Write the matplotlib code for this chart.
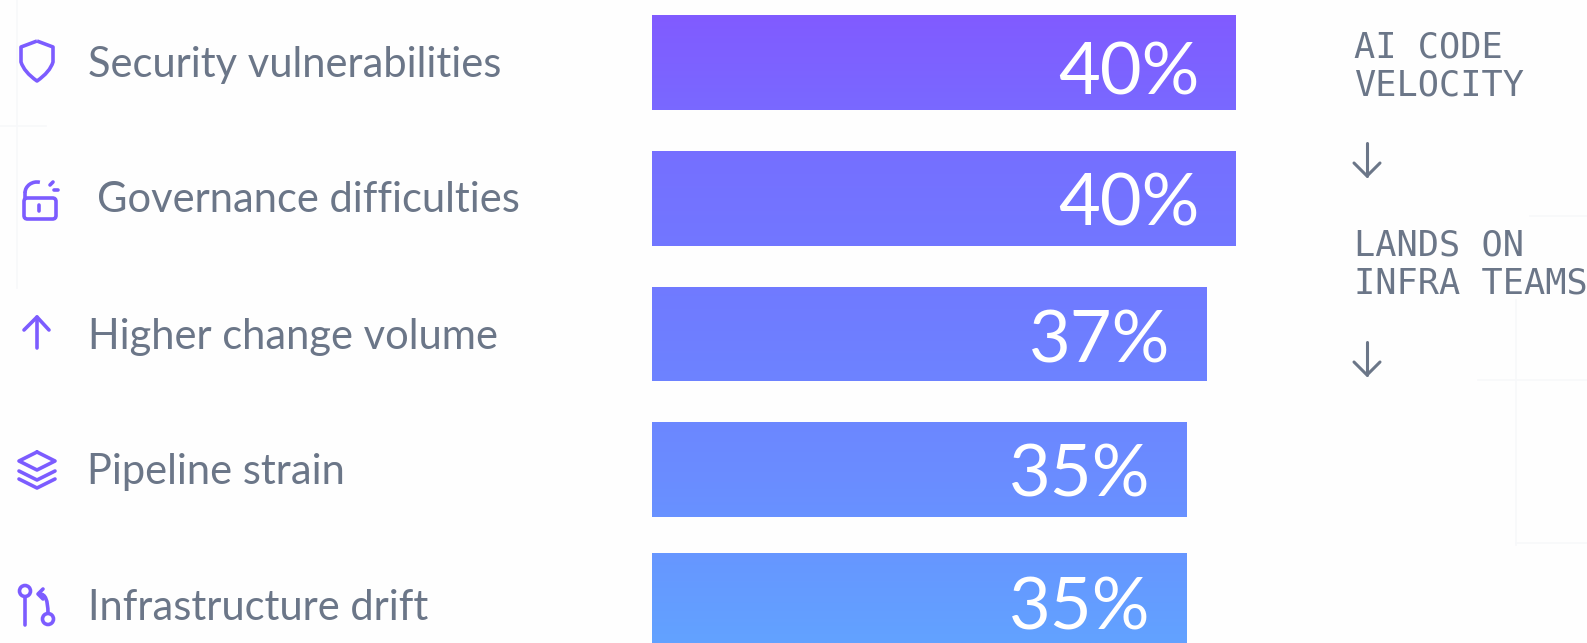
import numpy as np
import matplotlib
matplotlib.use('Agg')
import matplotlib.pyplot as plt
from matplotlib.colors import LinearSegmentedColormap
from matplotlib.patches import Arc, Circle, FancyBboxPatch, PathPatch
from matplotlib.path import Path

# Survey results
categories = ['Security vulnerabilities', 'Governance difficulties', 'Higher change volume',
              'Pipeline strain', 'Infrastructure drift']
values = [40, 40, 37, 35, 35]
flow_steps = [['AI CODE', 'VELOCITY'], ['LANDS ON', 'INFRA TEAMS']]

W, H = 1587, 643
PURPLE = '#7C5CFF'
SLATE = '#6B7688'
GRID = '#F7F8FA'

fig = plt.figure(figsize=(W / 100, H / 100), dpi=100, facecolor='#FEFEFE')

# Full-figure layer in pixel units for text, icons and the faint backdrop lines
bg = fig.add_axes([0, 0, 1, 1])
bg.set_xlim(0, W)
bg.set_ylim(H, 0)
bg.axis('off')

for x0, y0, x1, y1 in [(17, 0, 17, 288), (0, 126, 46, 126), (1516, 300, 1516, 545),
                       (1530, 216, W, 216), (1478, 380, W, 380), (1516, 543, W, 543)]:
    bg.plot([x0, x1], [y0, y1], color=GRID, lw=1.2)

# Bars sit on a truncated value axis, same vertical pixel layout as the labels
bar_left, bar_right = 652, 1235.5
px_per_pct = 9.8
axis_min = 40 - (bar_right - bar_left) / px_per_pct
bar_ax = fig.add_axes([bar_left / W, 0, (bar_right - bar_left) / W, 1])
bar_ax.axis('off')
bar_ax.patch.set_alpha(0)

bar_y = [62.5, 198.5, 334, 469.5, 600.5]
label_y = [65, 200, 337, 472, 608]
pct_y = [74, 205, 342, 476, 609]
bars = bar_ax.barh(bar_y, [v - axis_min for v in values], left=axis_min, height=95, color='none')

# Vertical purple to blue fade running through all the bars
fade = LinearSegmentedColormap.from_list('fade', ['#8259FF', '#7570FF', '#6F7DFF', '#6A8DFF', '#62A2FF'])
for bar in bars:
    img = bar_ax.imshow(np.linspace(0, 1, 256).reshape(-1, 1), cmap=fade, aspect='auto',
                        extent=[axis_min, 40, H, 0], zorder=2)
    img.set_clip_path(bar)
bar_ax.set_xlim(axis_min, 40)
bar_ax.set_ylim(H, 0)

for y, v in zip(pct_y, values):
    bar_ax.text(v - 36 / px_per_pct, y, f'{v}%', color='white', fontsize=52, family='Lato',
                ha='right', va='center', zorder=3)

label_x = [88, 97, 88, 87, 88]
for x, y, name in zip(label_x, label_y, categories):
    bg.text(x, y, name, color=SLATE, fontsize=30, family='Lato', ha='left', va='center')

# Flow column on the right
flow_y = [[48, 85], [246, 283]]
for lines, ys in zip(flow_steps, flow_y):
    for line, y in zip(lines, ys):
        bg.text(1354, y, line, color=SLATE, fontsize=25.4, family='DejaVu Sans Mono', ha='left', va='center')

for top, bottom in [(143, 176), (342, 375)]:
    bg.plot([1367, 1367], [top, bottom], color=SLATE, lw=2.2, solid_capstyle='round')
    bg.plot([1354, 1367, 1380], [bottom - 13, bottom, bottom - 13], color=SLATE, lw=2.2,
            solid_capstyle='round', solid_joinstyle='round')

# Line icons beside the category labels
icon = dict(color=PURPLE, lw=2.6, solid_capstyle='round', solid_joinstyle='round')

# shield
shield = Path([(37, 41), (53, 47), (53, 62), (50, 72), (37, 81), (24, 72), (21, 62), (21, 47), (37, 41)],
              [Path.MOVETO, Path.LINETO, Path.LINETO, Path.CURVE3, Path.CURVE3, Path.CURVE3, Path.CURVE3,
               Path.LINETO, Path.LINETO])
bg.add_patch(PathPatch(shield, fc='none', ec=PURPLE, lw=2.6, joinstyle='round'))

# open padlock
bg.add_patch(FancyBboxPatch((24, 198), 32, 21, boxstyle='round,pad=0,rounding_size=3.5',
                            fc='none', ec=PURPLE, lw=2.6))
bg.add_patch(Arc((37, 193), 24, 22, theta1=180, theta2=285, color=PURPLE, lw=2.6))
bg.plot([25, 25], [193, 198], **icon)
bg.plot([39, 39], [205, 211], **icon)
bg.plot([50, 53], [185, 182], **icon)
bg.plot([54, 58], [190, 190], **icon)

# up arrow
bg.plot([37, 37], [317, 348], **icon)
bg.plot([24, 37, 49], [330, 317, 330], **icon)

# stacked layers
bg.plot([37, 55, 37, 19, 37], [452, 461, 470, 461, 452], **icon)
bg.plot([19, 37, 55], [471, 480, 471], **icon)
bg.plot([19, 37, 55], [479, 488, 479], **icon)

# branch
bg.add_patch(Circle((25, 591), 5.5, fc='none', ec=PURPLE, lw=2.6))
bg.plot([25, 25], [597, 625], **icon)
bg.add_patch(Circle((48, 619), 5.5, fc='none', ec=PURPLE, lw=2.6))
branch = Path([(48, 613), (48, 594), (40, 594)], [Path.MOVETO, Path.CURVE3, Path.CURVE3])
bg.add_patch(PathPatch(branch, fc='none', ec=PURPLE, lw=2.6))
bg.plot([43, 38, 43], [589, 594, 599], **icon)

fig.savefig('out.png', dpi=100, facecolor=fig.get_facecolor())
